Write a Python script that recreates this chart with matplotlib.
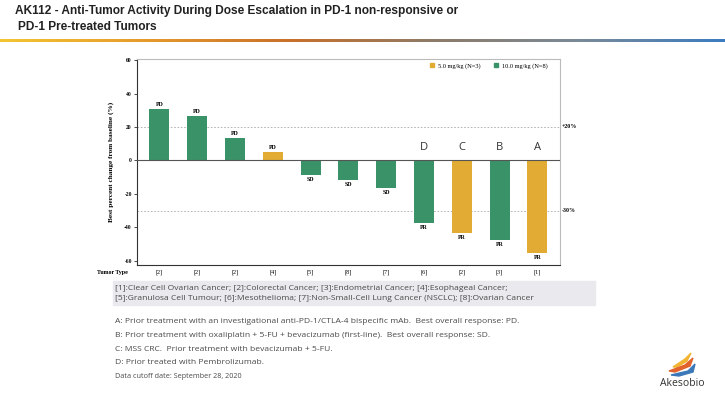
import numpy as np
import matplotlib
matplotlib.use("Agg")
from matplotlib import pyplot as plt, colors as mclrs
from matplotlib.patches import Polygon, Rectangle, Patch

# data
best_change = [31, 26.5, 13.5, 4.8, -8.4, -11.8, -16.4, -37.3, -43.3, -47.3, -55.3]
dose_group = ["10", "10", "10", "5", "10", "10", "10", "10", "5", "10", "5"]
response = ["PD", "PD", "PD", "PD", "SD", "SD", "SD", "PR", "PR", "PR", "PR"]
tumor_type = ["[2]", "[2]", "[2]", "[4]", "[5]", "[8]", "[7]", "[6]", "[2]", "[3]", "[1]"]
case_letters = {7: "D", 8: "C", 9: "B", 10: "A"}
ref_lines = [20, -30]
ref_labels = ["+20%", "-30%"]
y_ticks = [60, 40, 20, 0, -20, -40, -60]

green = "#3a9268"
gold = "#e2ac34"
dose_colors = {"5": gold, "10": green}
serif = ["Liberation Serif", "DejaVu Serif"]
sans = ["Open Sans", "DejaVu Sans"]

fig = plt.figure(figsize=(7.25, 3.95), dpi=100)

# title
title_font = ["Liberation Sans Narrow", "Liberation Sans"]
fig.text(15 / 725, 1 - 11 / 395, "AK112 - Anti-Tumor Activity During Dose Escalation in PD-1 non-responsive or",
         family=title_font, weight="bold", fontsize=8.6, color="#222222", va="center", ha="left")
fig.text(18 / 725, 1 - 27 / 395, "PD-1 Pre-treated Tumors",
         family=title_font, weight="bold", fontsize=8.6, color="#222222", va="center", ha="left")

# gradient rule under the title
grad_ax = fig.add_axes([0, 1 - 42 / 395, 1, 3 / 395])
grad_cmap = mclrs.LinearSegmentedColormap.from_list(
    "rule", ["#f3c531", "#e69a2c", "#c8702a", "#8d7b68", "#7a8a98", "#3b7cc0"])
grad_ax.imshow(np.linspace(0, 1, 256)[None, :], aspect="auto", cmap=grad_cmap)
grad_ax.axis("off")

# main chart
ax = fig.add_axes([136.7 / 725, 1 - 265 / 395, (560 - 136.7) / 725, (265 - 59) / 395])
x = np.arange(len(best_change))
bar_colors = [dose_colors[d] for d in dose_group]
ax.bar(x, best_change, width=0.53, color=bar_colors, zorder=2)
ax.axhline(0, color="#555555", lw=0.8, zorder=3)
for yv in ref_lines:
    ax.axhline(yv, color="#aaaaaa", lw=0.6, ls=(0, (2, 2)), zorder=1)
ax.set_xlim(-0.6, 10.6)
ax.set_ylim(-62.4, 60.6)
ax.set_yticks(y_ticks)
ax.set_yticklabels([str(t) for t in y_ticks], family=serif, weight="bold", fontsize=4)
ax.tick_params(axis="y", length=2, width=0.5, pad=1.5)
ax.set_xticks(x)
ax.set_xticklabels(tumor_type, family=serif, fontsize=4.3)
ax.tick_params(axis="x", length=0, pad=3)
ax.text(-0.02, -0.025, "Tumor Type", transform=ax.transAxes, ha="right", va="top",
        family=serif, weight="bold", fontsize=4.3)
ax.set_ylabel("Best percent change from baseline (%)", family=serif, weight="bold", fontsize=5.2, labelpad=7)
for s in ["left", "bottom"]:
    ax.spines[s].set_color("#333333")
    ax.spines[s].set_linewidth(0.8)
for s in ["top", "right"]:
    ax.spines[s].set_color("#bbbbbb")
    ax.spines[s].set_linewidth(0.8)

for i, v in enumerate(best_change):
    if v >= 0:
        ax.text(i, v + 1.2, response[i], ha="center", va="bottom", family=serif, weight="bold", fontsize=4.2)
    else:
        ax.text(i, v - 1.2, response[i], ha="center", va="top", family=serif, weight="bold", fontsize=4.2)
for i, letter in case_letters.items():
    ax.text(i, 7.5, letter, ha="center", va="center", family=sans, fontsize=8, color="#333333")

for yv, lab in zip(ref_lines, ref_labels):
    ax.text(1.005, yv, lab, transform=ax.get_yaxis_transform(), ha="left", va="center",
            family=serif, weight="bold", fontsize=4.2)

handles = [Patch(color=gold), Patch(color=green)]
ax.legend(handles, ["5.0 mg/kg (N=3)", "10.0 mg/kg (N=8)"], ncol=2, loc="upper right",
          frameon=False, prop={"family": serif, "size": 4.6}, handlelength=0.7, handleheight=0.7,
          handletextpad=0.6, columnspacing=2.0, borderaxespad=0.2, bbox_to_anchor=(0.98, 1.0))

# tumour type key in a grey box
fig.patches.append(Rectangle((113 / 725, 1 - 305 / 395), (595 - 113) / 725, 24 / 395,
                             transform=fig.transFigure, color="#e9e9ee", zorder=0))
fig.text(115 / 725, 1 - 288 / 395,
         "[1]:Clear Cell Ovarian Cancer; [2]:Colorectal Cancer; [3]:Endometrial Cancer; [4]:Esophageal Cancer;",
         family=sans, fontsize=6.1, color="#4a4a4a", va="center")
fig.text(115 / 725, 1 - 298 / 395,
         "[5]:Granulosa Cell Tumour; [6]:Mesothelioma; [7]:Non-Small-Cell Lung Cancer (NSCLC); [8]:Ovarian Cancer",
         family=sans, fontsize=6.1, color="#4a4a4a", va="center")

notes = [
    ("A", ": Prior treatment with an investigational anti-PD-1/CTLA-4 bispecific mAb.  Best overall response: PD."),
    ("B", ": Prior treatment with oxaliplatin + 5-FU + bevacizumab (first-line).  Best overall response: SD."),
    ("C", ": MSS CRC.  Prior treatment with bevacizumab + 5-FU."),
    ("D", ": Prior treated with Pembrolizumab."),
]
note_y = [321.5, 335.5, 349.5, 363]
for (key, txt), yp in zip(notes, note_y):
    fig.text(115 / 725, 1 - yp / 395, key + txt, family=sans, fontsize=6.1, color="#4a4a4a", va="center")
fig.text(115 / 725, 1 - 376.5 / 395, "Data cutoff date: September 28, 2020",
         family=sans, fontsize=5.2, color="#4a4a4a", va="center")

# company logo
logo_ax = fig.add_axes([655 / 725, 1 - 392 / 395, 55 / 725, 45 / 395])
logo_ax.set_xlim(0, 55)
logo_ax.set_ylim(45, 0)
logo_ax.axis("off")
logo_ax.add_patch(Polygon([[18, 20], [30, 12], [36, 6], [32, 14], [22, 20]], color="#f1b431"))
logo_ax.add_patch(Polygon([[14, 24], [30, 18], [38, 11], [35, 19], [20, 25]], color="#e2632b"))
logo_ax.add_patch(Polygon([[16, 28], [33, 24], [40, 17], [38, 25], [24, 29]], color="#3a78b8"))
logo_ax.text(27, 36, "Akesobio", ha="center", va="center", family=sans, fontsize=7.5, color="#333333")

fig.savefig("out.png", dpi=100)
